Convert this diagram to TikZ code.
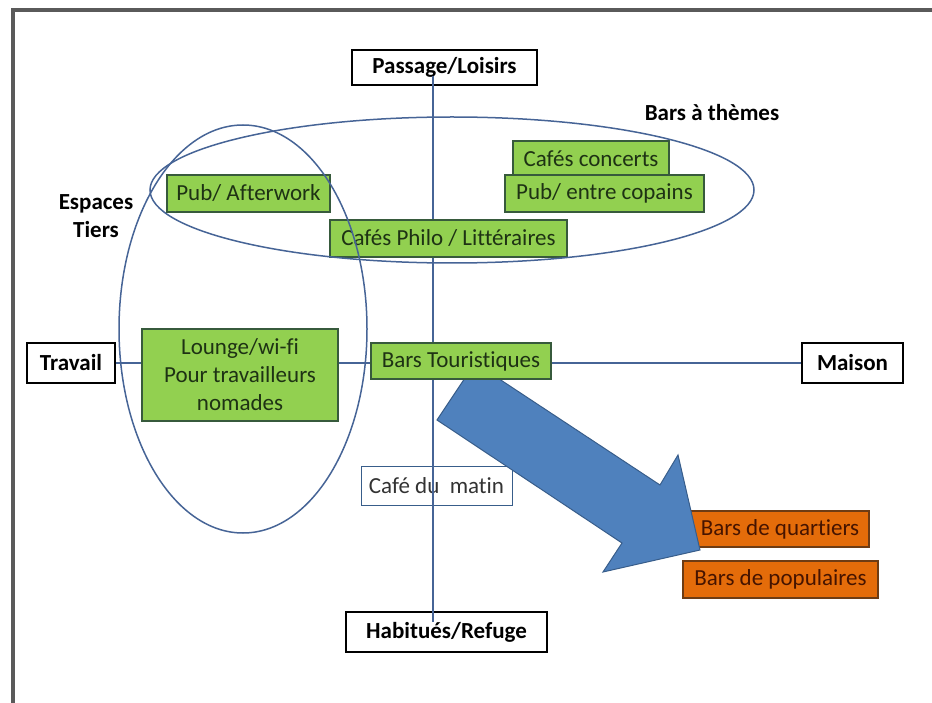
\documentclass[tikz,border=0pt]{standalone}
\usepackage{fontspec}
\setmainfont{Carlito}[Ligatures=NoCommon]
\usepackage{tikz}

\definecolor{cadre}{RGB}{90,90,90}
\definecolor{bleuaxe}{RGB}{70,100,150}
\definecolor{vertbar}{RGB}{146,208,80}
\definecolor{bordvert}{RGB}{55,90,60}
\definecolor{textevert}{RGB}{30,50,20}
\definecolor{orangebar}{RGB}{228,108,10}
\definecolor{bordorange}{RGB}{110,60,20}
\definecolor{texteorange}{RGB}{70,20,0}
\definecolor{bleufleche}{RGB}{79,129,189}
\definecolor{bordfleche}{RGB}{56,93,138}

\newcommand{\taille}{\fontsize{23}{28}\selectfont}

\begin{document}
\begin{tikzpicture}[x=1pt, y=-1pt,
    every node/.style={font=\taille, inner sep=0pt, align=center},
    axe/.style={draw=bleuaxe, line width=1.5pt},
    pole/.style={draw=black, fill=white, line width=1.5pt, font=\taille\bfseries},
    vert/.style={draw=bordvert, fill=vertbar, line width=1.5pt, text=textevert},
    orangebox/.style={draw=bordorange, fill=orangebar, line width=1.5pt, text=texteorange},
    zone/.style={draw=bleuaxe, line width=1.5pt}]
    \useasboundingbox (0,0) rectangle (932,703);
    \draw [line width=4pt, cadre] (932,10) -- (13,10) -- (13,703);

    % les quatre poles
    \node [pole, minimum width=185pt, minimum height=35pt] (Passage) at (444.5,67.5) {Passage/Loisirs};
    \node [pole, minimum width=88pt, minimum height=40pt] (Travail) at (71,363) {Travail};
    \node [pole, minimum width=101pt, minimum height=40pt] (Maison) at (852.5,363) {Maison};
    \node [pole, minimum width=201pt, minimum height=40pt] (Habitues) at (446.5,632) {Habitués/Refuge};
    \node [draw=bordfleche, fill=white, line width=1pt, text=black!80, minimum width=151pt, minimum height=39pt] (CafeMatin) at (436.5,485.5) {Café du\ \ matin};

    % axes
    \coordinate (O) at (433,364);
    \draw [axe] (Travail) -- (Maison);
    \draw [axe, shorten <=-10pt, shorten >=-11pt] (O |- Passage.south) -- (O |- Habitues.north);

    \node [orangebox, minimum width=178pt, minimum height=36pt] (Quartiers) at (780,529) {Bars de quartiers};
    \node [orangebox, minimum width=195pt, minimum height=37pt] (Populaires) at (780.5,579.5) {Bars de populaires};

    % grosse fleche
    \draw [fill=bleufleche, draw=bordfleche, line width=1pt] (475,363) -- (437,420) -- (622,543) -- (603,572)
        -- (700,550) -- (678,455) -- (660,485) -- cycle;

    \node [vert, minimum width=163pt, minimum height=37pt] (PubAfter) at (248.5,193.5) {Pub/ Afterwork};
    \node [vert, minimum width=237pt, minimum height=37pt] (CafesPhilo) at (448.5,238.5) {Cafés Philo / Littéraires};
    \node [vert, minimum width=156pt, minimum height=36pt] (CafesConcerts) at (591,159) {Cafés concerts};
    \node [vert, minimum width=199pt, minimum height=37pt] (PubCopains) at (604.5,193.5) {Pub/ entre copains};
    \node [vert, minimum width=196pt, minimum height=92pt] (Lounge) at (240,375) {Lounge/wi-fi\\Pour travailleurs\\nomades};
    \node [vert, minimum width=180pt, minimum height=36pt] (BarsTour) at (461,361) {Bars Touristiques};

    % les deux zones
    \draw [zone] (452,190) ellipse [x radius=302, y radius=73];
    \draw [zone] (243,329) ellipse [x radius=124, y radius=204];

    \node [font=\taille\bfseries] (Themes) at (712,113) {Bars à thèmes};
    \node [font=\taille\bfseries] (Tiers) at (96,216) {Espaces\\Tiers};
\end{tikzpicture}
\end{document}
